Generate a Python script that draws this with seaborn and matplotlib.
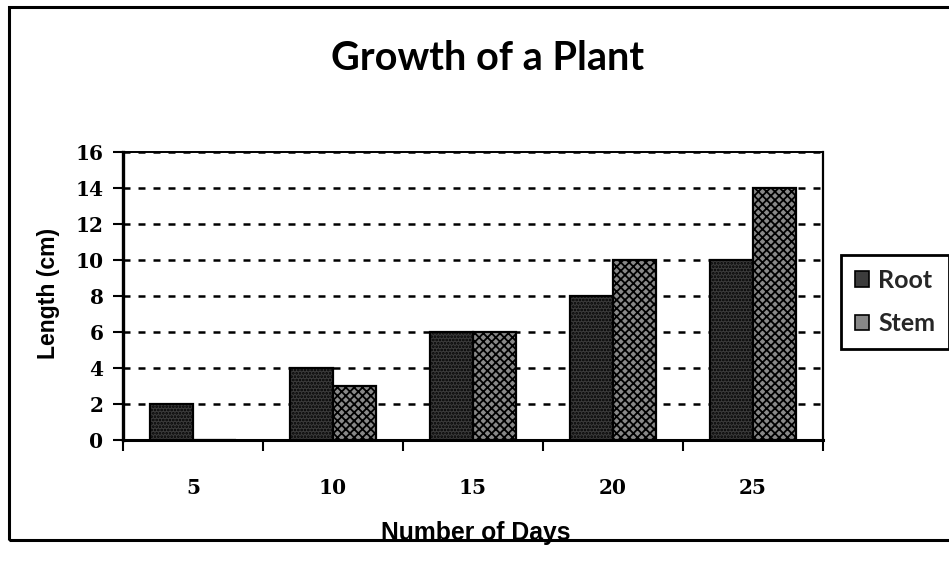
import matplotlib
matplotlib.use("Agg")
import matplotlib.pyplot as plt
from matplotlib.patches import Rectangle
from matplotlib.ticker import FixedLocator, NullFormatter
import seaborn as sns
import pandas as pd

# Plant growth measurements
days = ["5", "10", "15", "20", "25"]
root_cm = [2, 4, 6, 8, 10]
stem_cm = [0, 3, 6, 10, 14]
parts = ["Root", "Stem"]
y_ticks = [0, 2, 4, 6, 8, 10, 12, 14, 16]

df = pd.DataFrame({
    "day": days * 2,
    "length": root_cm + stem_cm,
    "part": [parts[0]] * len(days) + [parts[1]] * len(days),
})

sns.set_theme(style="white")
plt.rcParams["hatch.linewidth"] = 1.3

W, H = 949, 571
fig = plt.figure(figsize=(W / 100, H / 100), dpi=100)
fig.patch.set_facecolor("white")

# outer chart frame (right side runs past the image edge)
fig.add_artist(Rectangle((9 / W, 1 - 540 / H), 1.2, (540 - 7) / H,
                         transform=fig.transFigure, fill=False,
                         edgecolor="black", linewidth=2.2))

ax = fig.add_axes([123 / W, 1 - 440 / H, 700 / W, 288 / H])
ax.set_facecolor("white")

sns.barplot(data=df, x="day", y="length", hue="part", order=days,
            hue_order=parts, width=0.62, palette=["#3c3c3c", "#888888"],
            edgecolor="black", linewidth=1.6, saturation=1, ax=ax,
            legend=True, zorder=3)

hatches = {"Root": ".....", "Stem": "xxxx"}
for cont, name in zip(ax.containers, parts):
    for bar in cont:
        bar.set_hatch(hatches[name])

ax.set_ylim(0, 16)
ax.set_xlim(-0.5, len(days) - 0.5)
ax.set_yticks(y_ticks)
ax.set_yticklabels([str(v) for v in y_ticks])

# dashed gridlines
ax.yaxis.grid(True, color="black", linewidth=1.8, linestyle=(0, (2.8, 3.2)), zorder=1)
ax.xaxis.grid(False)
ax.set_axisbelow(True)

for side in ["left", "bottom", "top", "right"]:
    ax.spines[side].set_visible(True)
    ax.spines[side].set_color("black")
ax.spines["left"].set_linewidth(2.4)
ax.spines["bottom"].set_linewidth(2.2)
ax.spines["top"].set_linewidth(1.4)
ax.spines["right"].set_linewidth(1.6)

tick_font = dict(family="DejaVu Serif", weight="bold", size=14.5)
ax.tick_params(axis="y", direction="out", length=7, width=1.5, pad=7,
               colors="black", left=True)
ax.tick_params(axis="x", which="major", length=0, pad=27)
ax.xaxis.set_minor_locator(FixedLocator([i - 0.5 for i in range(len(days) + 1)]))
ax.xaxis.set_minor_formatter(NullFormatter())
ax.tick_params(axis="x", which="minor", direction="out", length=8, width=1.5,
               colors="black", bottom=True)
for lab in ax.get_yticklabels() + ax.get_xticklabels():
    lab.set_fontfamily(tick_font["family"])
    lab.set_fontweight(tick_font["weight"])
    lab.set_fontsize(tick_font["size"])
    lab.set_color("black")

ax.set_xlabel("Number of Days", fontsize=17.8, fontweight="bold",
              family="Liberation Sans", color="black", ha="center", va="center")
ax.xaxis.set_label_coords((476 - 123) / 700, (440 - 533) / 288)
ax.set_ylabel("Length (cm)", fontsize=16.6, fontweight="bold",
              family="Liberation Sans", color="black", ha="center", va="center")
ax.yaxis.set_label_coords((48 - 123) / 700, (440 - 293) / 288)

ax.set_title("Growth of a Plant", fontsize=28.5, fontweight="bold", family="Lato",
             color="black", x=(488 - 123) / 700, y=(440 - 59) / 288, va="center",
             pad=0)

leg = ax.legend(loc="upper left", bbox_to_anchor=((841 - 123) / 700, (440 - 255) / 288),
                frameon=True, fancybox=False, framealpha=1, edgecolor="black",
                prop=dict(family="Lato", weight="bold", size=18),
                handlelength=0.58, handleheight=0.58, handletextpad=0.35,
                labelspacing=0.82, borderpad=0.55, borderaxespad=0)
leg.get_frame().set_linewidth(2)
for h in leg.legend_handles:
    h.set_edgecolor("black")
    h.set_linewidth(1.2)

fig.savefig("out.png", dpi=100)
